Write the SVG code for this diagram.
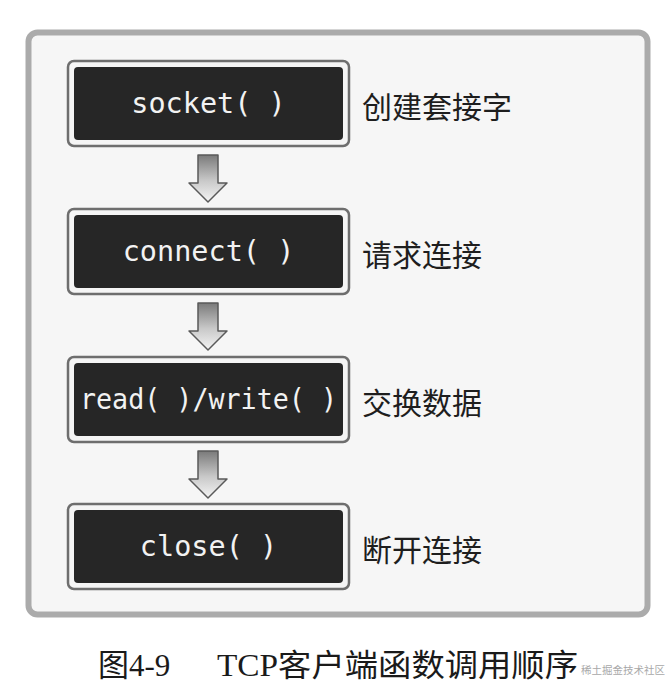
<svg xmlns="http://www.w3.org/2000/svg" xmlns:xlink="http://www.w3.org/1999/xlink" width="670" height="694" viewBox="0 0 670 694">
  <style>
    .outer { fill: #f5f5f5; stroke: #6e6e6e; stroke-width: 2.5; }
    .inner { fill: #262626; }
    .fn { font-family: "DejaVu Sans Mono", "Liberation Mono", monospace; font-size: 28.5px; fill: #f2f2f2; text-anchor: middle; }
    .lbl { font-family: "Liberation Serif", "Noto Sans CJK SC", serif; font-size: 30px; fill: #1e1e1e; }
    .cap { font-family: "Liberation Serif", "Noto Sans CJK SC", serif; font-size: 31px; fill: #1a1a1a; }
    .wm { font-family: "Noto Sans CJK SC", sans-serif; font-size: 10.5px; fill: #9a9a9a; opacity: 0.85; }
    .arr { fill: url(#ag); stroke: #5a5a5a; stroke-width: 1.5; stroke-linejoin: round; }
  </style>
  <defs>
    <linearGradient id="ag" x1="0" y1="0" x2="0" y2="1">
      <stop offset="0" stop-color="#7a7a7a"/>
      <stop offset="0.55" stop-color="#c9c9c9"/>
      <stop offset="1" stop-color="#f4f4f4"/>
    </linearGradient>
    <path id="arrow" class="arr" d="M198,0 H218 V28 H227 L208,47 L189,28 H198 Z"/>
  </defs>
  <rect width="670" height="694" fill="#ffffff"/>
  <rect id="panel" x="28.5" y="32.5" width="619" height="582" rx="9" fill="#f6f6f6" stroke="#ababab" stroke-width="6"/>

  <g id="connectors">
    <use xlink:href="#arrow" href="#arrow" transform="translate(0,155)"/>
    <use xlink:href="#arrow" href="#arrow" transform="translate(0,303)"/>
    <use xlink:href="#arrow" href="#arrow" transform="translate(0,451)"/>
  </g>

  <g id="node-socket">
    <rect class="outer" x="68" y="61" width="281" height="85" rx="6"/>
    <rect class="inner" x="74" y="67" width="269" height="73" rx="4"/>
    <text class="fn" x="208.5" y="112.5">socket( )</text>
    <text class="lbl" x="362" y="117.5">创建套接字</text>
  </g>
  <g id="node-connect">
    <rect class="outer" x="68" y="209" width="281" height="85" rx="6"/>
    <rect class="inner" x="74" y="215" width="269" height="73" rx="4"/>
    <text class="fn" x="208.5" y="260.5">connect( )</text>
    <text class="lbl" x="362" y="265.5">请求连接</text>
  </g>
  <g id="node-readwrite">
    <rect class="outer" x="68" y="357" width="281" height="85" rx="6"/>
    <rect class="inner" x="74" y="363" width="269" height="73" rx="4"/>
    <text class="fn" x="208.5" y="408.5" textLength="257" lengthAdjust="spacingAndGlyphs">read( )/write( )</text>
    <text class="lbl" x="362" y="413.5">交换数据</text>
  </g>
  <g id="node-close">
    <rect class="outer" x="68" y="504" width="281" height="85" rx="6"/>
    <rect class="inner" x="74" y="510" width="269" height="73" rx="4"/>
    <text class="fn" x="208.5" y="555.5">close( )</text>
    <text class="lbl" x="362" y="560.5">断开连接</text>
  </g>

  <g id="caption">
    <text class="cap" x="98" y="676">图4-9</text>
    <text class="cap" x="217" y="676" textLength="361" lengthAdjust="spacingAndGlyphs">TCP客户端函数调用顺序</text>
    <text class="wm" x="581" y="674">稀土掘金技术社区</text>
  </g>
</svg>
